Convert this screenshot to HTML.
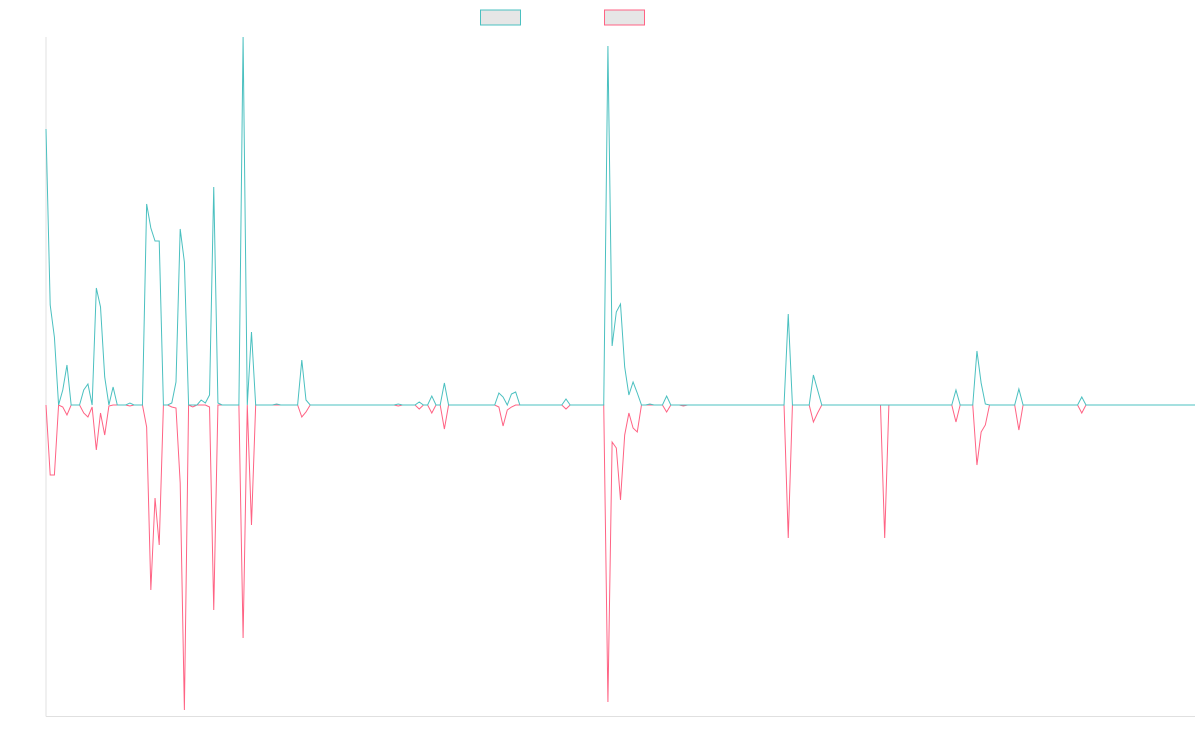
<!DOCTYPE html>
<html><head><meta charset="utf-8">
<style>
html,body{margin:0;padding:0;background:#fff;}
svg{display:block;font-family:"Liberation Sans",sans-serif;}
</style></head>
<body>
<svg id="chart" width="1200" height="750" viewBox="0 0 1200 750" xmlns="http://www.w3.org/2000/svg">
  <g>
    <rect x="480.5" y="10" width="40" height="15" fill="#e6e6e6" stroke="#4bc0c0" stroke-width="1"/>
    <rect x="604.5" y="10" width="40" height="15" fill="#e6e6e6" stroke="#ff6384" stroke-width="1"/>
  </g>
  <line x1="46" y1="37" x2="46" y2="716.5" stroke="#e0e0e0" stroke-width="1"/>
  <line x1="46" y1="716.5" x2="1195" y2="716.5" stroke="#e0e0e0" stroke-width="1"/>
  <g id="series"></g>
</svg>
<script>
// number of categories along the x axis
const pointCount = 275;
// non-zero samples: [category index, value]
const tealSeries = [[0,276],[1,100],[2,68],[4,15],[5,40],[9,15],[10,21],[12,117],[13,98],[14,28],[16,18],[20,2],[24,201],[25,177],[26,164],[27,164],[30,2],[31,23],[32,176],[33,143],[37,5],[38,2],[39,10],[40,218],[41,2],[47,368],[49,73],[55,1],[61,45],[62,5],[84,1],[89,3],[92,9],[95,22],[108,12],[109,8],[111,11],[112,13],[124,6],[134,359],[135,59],[136,93],[137,101],[138,38],[139,10],[140,23],[141,12],[144,1],[148,9],[177,91],[183,30],[184,15],[217,15],[222,54],[223,22],[224,1],[232,16],[247,8]];
const pinkSeries = [[1,-70],[2,-70],[4,-2],[5,-10],[9,-8],[10,-12],[11,-2],[12,-45],[13,-8],[14,-30],[15,-1],[20,-1],[24,-22],[25,-185],[26,-93],[27,-140],[30,-2],[31,-3],[32,-78],[33,-305],[35,-2],[39,-2],[40,-205],[47,-233],[49,-120],[61,-12],[62,-7],[84,-1],[89,-4],[92,-8],[95,-24],[108,-2],[109,-21],[110,-5],[111,-2],[124,-4],[134,-297],[135,-37],[136,-43],[137,-95],[138,-30],[139,-8],[140,-23],[141,-27],[148,-7],[152,-1],[177,-133],[183,-17],[184,-8],[200,-133],[217,-17],[222,-60],[223,-27],[224,-20],[232,-25],[247,-8]];
const yDomain = [-311, 368];

const plot = {left:46, right:1195, top:37, bottom:716};
function xScale(i){ return plot.left + i*(plot.right-plot.left)/(pointCount-1); }
function yScale(v){ return plot.bottom - (v - yDomain[0])*(plot.bottom-plot.top)/(yDomain[1]-yDomain[0]); }

function densify(sparse){
  const arr = new Array(pointCount).fill(0);
  sparse.forEach(p => { arr[p[0]] = p[1]; });
  return arr;
}
const g = document.getElementById('series');
const ns = 'http://www.w3.org/2000/svg';
function drawLine(sparse, color, name){
  const vals = densify(sparse);
  const d = vals.map((v,i) => (i ? 'L' : 'M') + xScale(i).toFixed(2) + ' ' + yScale(v).toFixed(2)).join(' ');
  const path = document.createElementNS(ns, 'path');
  path.setAttribute('d', d);
  path.setAttribute('fill', 'none');
  path.setAttribute('stroke', color);
  path.setAttribute('stroke-width', '1');
  path.setAttribute('stroke-linejoin', 'miter');
  
  
  g.appendChild(path);
}
drawLine(pinkSeries, '#ff6384', 'pink-series-line');
drawLine(tealSeries, '#4bc0c0', 'teal-series-line');
</script>
</body></html>
